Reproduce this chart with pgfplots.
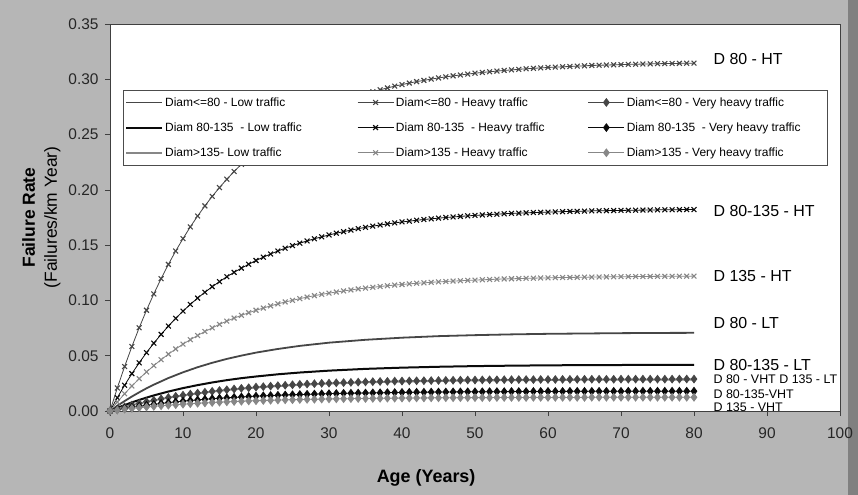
\documentclass[border=0pt]{standalone}
\usepackage{fontspec}
\setmainfont{Liberation Sans}
\usepackage{pgfplots}
\pgfplotsset{compat=1.18}
\usepackage{pgfplotstable}
\definecolor{bg}{RGB}{182,182,182}
\definecolor{cA}{RGB}{70,70,70}
\definecolor{cB}{RGB}{10,10,10}
\definecolor{cC}{RGB}{135,135,135}

\pgfplotstableread{
x l80 l80b l135
0 0 0 0
1 0.0047 0.0028 0.0019
2 0.0090 0.0053 0.0036
3 0.0131 0.0078 0.0053
4 0.0169 0.0100 0.0068
5 0.0205 0.0121 0.0082
6 0.0238 0.0141 0.0096
8 0.0298 0.0176 0.0120
10 0.0350 0.0207 0.0141
12 0.0396 0.0234 0.0159
14 0.0436 0.0258 0.0175
16 0.0471 0.0279 0.0189
18 0.0501 0.0297 0.0201
20 0.0528 0.0312 0.0212
23 0.0561 0.0332 0.0225
26 0.0589 0.0348 0.0236
30 0.0618 0.0365 0.0248
35 0.0644 0.0381 0.0259
40 0.0663 0.0392 0.0266
45 0.0677 0.0400 0.0272
50 0.0686 0.0406 0.0276
55 0.0693 0.0410 0.0278
60 0.0698 0.0413 0.0280
65 0.0701 0.0415 0.0282
70 0.0704 0.0416 0.0283
75 0.0706 0.0417 0.0283
80 0.0707 0.0418 0.0284
}\tabLT

\pgfplotstableread{
x h80 h80b h135 v80 v80b v135
0 0 0 0 0 0 0
1 0.0208 0.0120 0.0081 0.0019 0.0012 0.0008
2 0.0402 0.0233 0.0156 0.0037 0.0023 0.0016
3 0.0583 0.0338 0.0226 0.0054 0.0033 0.0023
4 0.0753 0.0436 0.0292 0.0069 0.0043 0.0030
5 0.0911 0.0528 0.0353 0.0084 0.0052 0.0036
6 0.1059 0.0613 0.0410 0.0097 0.0060 0.0042
7 0.1197 0.0693 0.0464 0.0110 0.0068 0.0047
8 0.1326 0.0768 0.0514 0.0122 0.0076 0.0052
9 0.1447 0.0838 0.0561 0.0133 0.0082 0.0057
10 0.1559 0.0903 0.0605 0.0143 0.0089 0.0062
11 0.1665 0.0964 0.0645 0.0153 0.0095 0.0066
12 0.1763 0.1021 0.0683 0.0162 0.0100 0.0070
13 0.1855 0.1074 0.0719 0.0170 0.0106 0.0073
14 0.1941 0.1124 0.0752 0.0178 0.0111 0.0077
15 0.2021 0.1170 0.0784 0.0185 0.0115 0.0080
16 0.2096 0.1214 0.0813 0.0192 0.0119 0.0083
17 0.2166 0.1254 0.0840 0.0199 0.0123 0.0086
18 0.2231 0.1292 0.0865 0.0205 0.0127 0.0088
19 0.2292 0.1327 0.0889 0.0210 0.0131 0.0091
20 0.2349 0.1361 0.0911 0.0216 0.0134 0.0093
21 0.2403 0.1391 0.0931 0.0220 0.0137 0.0095
22 0.2452 0.1420 0.0951 0.0225 0.0140 0.0097
23 0.2499 0.1447 0.0969 0.0229 0.0142 0.0099
24 0.2543 0.1472 0.0986 0.0233 0.0145 0.0101
25 0.2583 0.1496 0.1001 0.0237 0.0147 0.0102
26 0.2621 0.1518 0.1016 0.0241 0.0149 0.0104
27 0.2657 0.1538 0.1030 0.0244 0.0151 0.0105
28 0.2689 0.1558 0.1043 0.0247 0.0153 0.0106
29 0.2720 0.1575 0.1055 0.0250 0.0155 0.0108
30 0.2750 0.1592 0.1066 0.0252 0.0157 0.0109
31 0.2776 0.1608 0.1076 0.0255 0.0158 0.0110
32 0.2802 0.1622 0.1086 0.0257 0.0160 0.0111
33 0.2825 0.1636 0.1095 0.0259 0.0161 0.0112
34 0.2847 0.1649 0.1104 0.0261 0.0162 0.0113
35 0.2868 0.1661 0.1112 0.0263 0.0163 0.0113
36 0.2887 0.1672 0.1119 0.0265 0.0164 0.0114
37 0.2905 0.1682 0.1126 0.0267 0.0165 0.0115
38 0.2922 0.1692 0.1133 0.0268 0.0166 0.0116
39 0.2938 0.1701 0.1139 0.0270 0.0167 0.0116
40 0.2952 0.1710 0.1144 0.0271 0.0168 0.0117
41 0.2966 0.1717 0.1150 0.0272 0.0169 0.0117
42 0.2979 0.1725 0.1155 0.0273 0.0170 0.0118
43 0.2990 0.1732 0.1159 0.0274 0.0170 0.0118
44 0.3002 0.1738 0.1164 0.0275 0.0171 0.0119
45 0.3012 0.1744 0.1168 0.0276 0.0172 0.0119
46 0.3022 0.1750 0.1171 0.0277 0.0172 0.0120
47 0.3031 0.1755 0.1175 0.0278 0.0173 0.0120
48 0.3039 0.1760 0.1178 0.0279 0.0173 0.0120
49 0.3047 0.1765 0.1181 0.0280 0.0174 0.0121
50 0.3055 0.1769 0.1184 0.0280 0.0174 0.0121
51 0.3062 0.1773 0.1187 0.0281 0.0174 0.0121
52 0.3068 0.1777 0.1189 0.0282 0.0175 0.0121
53 0.3074 0.1780 0.1192 0.0282 0.0175 0.0122
54 0.3080 0.1784 0.1194 0.0283 0.0175 0.0122
55 0.3085 0.1787 0.1196 0.0283 0.0176 0.0122
56 0.3090 0.1789 0.1198 0.0284 0.0176 0.0122
57 0.3095 0.1792 0.1200 0.0284 0.0176 0.0122
58 0.3099 0.1795 0.1201 0.0284 0.0177 0.0123
59 0.3103 0.1797 0.1203 0.0285 0.0177 0.0123
60 0.3107 0.1799 0.1204 0.0285 0.0177 0.0123
61 0.3110 0.1801 0.1206 0.0285 0.0177 0.0123
62 0.3113 0.1803 0.1207 0.0286 0.0177 0.0123
63 0.3116 0.1805 0.1208 0.0286 0.0178 0.0123
64 0.3119 0.1806 0.1209 0.0286 0.0178 0.0123
65 0.3122 0.1808 0.1210 0.0287 0.0178 0.0123
66 0.3125 0.1810 0.1211 0.0287 0.0178 0.0124
67 0.3127 0.1811 0.1212 0.0287 0.0178 0.0124
68 0.3129 0.1812 0.1213 0.0287 0.0178 0.0124
69 0.3131 0.1813 0.1214 0.0287 0.0178 0.0124
70 0.3133 0.1814 0.1215 0.0288 0.0178 0.0124
71 0.3135 0.1815 0.1215 0.0288 0.0179 0.0124
72 0.3136 0.1816 0.1216 0.0288 0.0179 0.0124
73 0.3138 0.1817 0.1216 0.0288 0.0179 0.0124
74 0.3139 0.1818 0.1217 0.0288 0.0179 0.0124
75 0.3141 0.1819 0.1218 0.0288 0.0179 0.0124
76 0.3142 0.1820 0.1218 0.0288 0.0179 0.0124
77 0.3143 0.1820 0.1218 0.0288 0.0179 0.0124
78 0.3144 0.1821 0.1219 0.0289 0.0179 0.0124
79 0.3145 0.1822 0.1219 0.0289 0.0179 0.0124
80 0.3146 0.1822 0.1220 0.0289 0.0179 0.0124
}\tabHT

\begin{document}
\begin{tikzpicture}
\path[use as bounding box] (-110bp,-84bp) rectangle (748bp,411bp);
\fill[bg] (-110bp,-84bp) rectangle (748bp,411bp);
\fill[black!50] (738bp,-84bp) rectangle (748bp,411bp);
\begin{axis}[
  at={(0,0)}, anchor=south west,
  scale only axis, width=730bp, height=387bp,
  xmin=0, xmax=100, ymin=0, ymax=0.35,
  axis background/.style={fill=white},
  xtick={0,10,20,30,40,50,60,70,80,90,100},
  ytick={0,0.05,0.10,0.15,0.20,0.25,0.30,0.35},
  tick pos=left, tick align=outside, major tick length=5bp,
  tick style={black!75, line width=0.7bp},
  axis line style={black!75, line width=0.8bp},
  /pgf/number format/assume math mode=true,
  yticklabel style={/pgf/number format/fixed, /pgf/number format/fixed zerofill, /pgf/number format/precision=2, xshift=-3bp},
  xticklabel style={yshift=-8bp},
  ticklabel style={font=\fontsize{15.5}{17}\selectfont, text=black!85},
  xlabel={\textbf{Age (Years)}},
  xlabel style={font=\fontsize{18}{20}\selectfont, at={(axis description cs:0.433,-0.172)}, anchor=center},
  ylabel={\textbf{Failure Rate}\\(Failures/km Year)},
  ylabel style={font=\fontsize{17.5}{22}\selectfont, align=center, at={(axis description cs:-0.094,0.5)}, anchor=center},
  clip=false,
  legend columns=3,
  legend cell align=left,
  legend style={at={(0.0178,0.829)}, anchor=north west, draw=black!70, fill=white,
    font=\fontsize{12}{13}\selectfont, row sep=11bp, inner xsep=2bp, inner ysep=5bp, column sep=0bp},
  legend image code/.code={\draw[mark repeat=2,mark phase=2,#1] plot coordinates {(0bp,0bp) (18bp,0bp) (36bp,0bp)};},
]
\addplot[cA, line width=1.8bp] table[x=x,y=l80]{\tabLT};
\addlegendentry{\makebox[190bp][l]{Diam<=80 - Low traffic}}
\addplot[cA, line width=0.8bp, mark=x, mark size=3.4bp, mark options={line width=1.1bp}] table[x=x,y=h80]{\tabHT};
\addlegendentry{\makebox[190bp][l]{Diam<=80 - Heavy traffic}}
\addplot[cA, line width=0.8bp, mark=diamond*, mark size=3.8bp] table[x=x,y=v80]{\tabHT};
\addlegendentry{\makebox[196bp][l]{Diam<=80 - Very heavy traffic}}
\addplot[cB, line width=2bp] table[x=x,y=l80b]{\tabLT};
\addlegendentry{\makebox[190bp][l]{Diam 80-135 \ - Low traffic}}
\addplot[cB, line width=0.8bp, mark=x, mark size=3.4bp, mark options={line width=1.1bp}] table[x=x,y=h80b]{\tabHT};
\addlegendentry{\makebox[190bp][l]{Diam 80-135 \ - Heavy traffic}}
\addplot[cB, line width=0.8bp, mark=diamond*, mark size=3.8bp] table[x=x,y=v80b]{\tabHT};
\addlegendentry{\makebox[196bp][l]{Diam 80-135 \ - Very heavy traffic}}
\addplot[cC, line width=1.8bp] table[x=x,y=l135]{\tabLT};
\addlegendentry{\makebox[190bp][l]{Diam>135- Low traffic}}
\addplot[cC, line width=0.8bp, mark=x, mark size=3.4bp, mark options={line width=1.1bp}] table[x=x,y=h135]{\tabHT};
\addlegendentry{\makebox[190bp][l]{Diam>135 - Heavy traffic}}
\addplot[cC, line width=0.8bp, mark=diamond*, mark size=3.8bp] table[x=x,y=v135]{\tabHT};
\addlegendentry{\makebox[196bp][l]{Diam>135 - Very heavy traffic}}

\node[anchor=west, font=\fontsize{16}{18}\selectfont] at (axis cs:82.2,0.3183) {D 80 - HT};
\node[anchor=west, font=\fontsize{16}{18}\selectfont] at (axis cs:82.2,0.1813) {D 80-135 - HT};
\node[anchor=west, font=\fontsize{16}{18}\selectfont] at (axis cs:82.2,0.1224) {D 135 - HT};
\node[anchor=west, font=\fontsize{16}{18}\selectfont] at (axis cs:82.2,0.0798) {D 80 - LT};
\node[anchor=west, font=\fontsize{16}{18}\selectfont] at (axis cs:82.2,0.0417) {D 80-135 - LT};
\node[anchor=west, font=\fontsize{12.5}{14}\selectfont] at (axis cs:82.2,0.0290) {D 80 - VHT D 135 - LT};
\node[anchor=west, font=\fontsize{12.5}{14}\selectfont] at (axis cs:82.2,0.0154) {D 80-135-VHT};
\node[anchor=west, font=\fontsize{12.5}{14}\selectfont] at (axis cs:82.2,0.0036) {D 135 - VHT};
\end{axis}
\end{tikzpicture}
\end{document}
